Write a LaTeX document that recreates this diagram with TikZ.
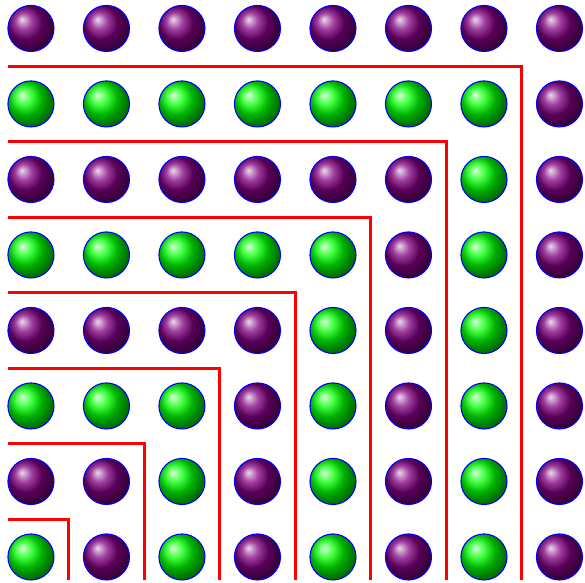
\documentclass[tikz,border=0pt]{standalone}
\definecolor{plum}{HTML}{800080}

\begin{document}
\begin{tikzpicture}[bead/.style={circle,draw=blue,line width=0.4pt,minimum size=6.1mm,inner sep=0pt},
evenbead/.style={bead,ball color=green},
oddbead/.style={bead,ball color=plum},
wall/.style={draw=red,line width=1.15pt}]
\useasboundingbox (-0.41,-0.344) rectangle (7.338,7.377);
\foreach \i in {0,...,7}
  \foreach \j in {0,...,7}{
    \pgfmathtruncatemacro{\k}{max(\i,\j)}
    \ifodd\k \node[oddbead] (b\i\j) at (\j,\i) {}; \else \node[evenbead] (b\i\j) at (\j,\i) {}; \fi
  }
\foreach \k in {0,...,6}
  \draw[wall] (-0.3,\k+0.5) -| (\k+0.5,-0.3);
\end{tikzpicture}
\end{document}
